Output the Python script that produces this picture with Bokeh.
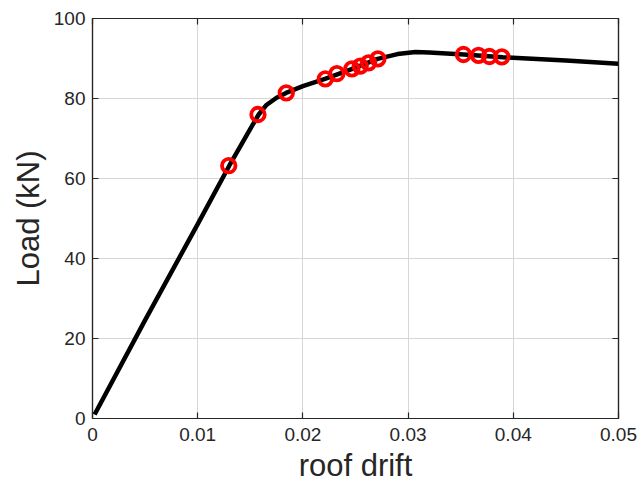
from bokeh.plotting import figure
from bokeh.models import LinearAxis, Range1d, FixedTicker
from bokeh.embed import file_html
from bokeh.resources import INLINE

# Curve (pushover) data
drift_curve = [0.0002, 0.0050, 0.0100, 0.0130, 0.0150, 0.0158, 0.0165, 0.0175, 0.0184,
               0.0200, 0.0221, 0.0247, 0.0271, 0.0290, 0.0307, 0.0320, 0.0353, 0.0390,
               0.0450, 0.0500]
load_curve = [1.0, 24.6, 48.6, 63.2, 72.4, 76.0, 78.3, 80.2, 81.4,
              83.1, 84.9, 87.4, 89.9, 91.1, 91.6, 91.5, 91.0, 90.3,
              89.5, 88.7]

# Marked points
drift_pts = [0.01295, 0.01573, 0.01842, 0.02213, 0.02323, 0.02466, 0.02545, 0.02624,
             0.02713, 0.03526, 0.03669, 0.03773, 0.03891]
load_pts = [63.2, 76.0, 81.4, 84.9, 86.2, 87.4, 88.1, 88.9,
            89.9, 91.0, 90.8, 90.5, 90.4]

x_ticks = [0, 0.01, 0.02, 0.03, 0.04, 0.05]
x_labels = ["0", "0.01", "0.02", "0.03", "0.04", "0.05"]
y_ticks = [0, 20, 40, 60, 80, 100]
y_labels = ["0", "20", "40", "60", "80", "100"]

FONT = "Liberation Sans"
AX = "#262626"

p = figure(width=640, height=485, output_backend="svg", toolbar_location=None,
           x_range=Range1d(0, 0.05), y_range=Range1d(0, 100),
           min_border_left=92, min_border_right=22, min_border_top=18, min_border_bottom=67)
p.outline_line_color = AX
p.outline_line_width = 1.2
p.background_fill_color = "white"

p.line(drift_curve, load_curve, line_color="black", line_width=4.5)
p.scatter(drift_pts, load_pts, marker="circle", size=13.5, fill_color=None,
          line_color="red", line_width=3.8)

def style_axis(ax, labels, ticks, show_labels=True):
    ax.ticker = FixedTicker(ticks=ticks)
    ax.major_label_overrides = {t: l for t, l in zip(ticks, labels)}
    ax.axis_line_color = AX
    ax.axis_line_width = 1.2
    ax.major_tick_line_color = AX
    ax.major_tick_line_width = 1.2
    ax.major_tick_in = 6
    ax.major_tick_out = 0
    ax.minor_tick_line_color = None
    ax.major_label_text_font = FONT
    ax.major_label_text_font_size = "19px"
    ax.major_label_text_color = AX
    if not show_labels:
        ax.major_label_text_alpha = 0
        ax.major_label_text_font_size = "1px"

style_axis(p.xaxis[0], x_labels, x_ticks)
style_axis(p.yaxis[0], y_labels, y_ticks)
p.xaxis[0].major_label_standoff = 9
p.yaxis[0].major_label_standoff = 7

p.xaxis[0].axis_label = "roof drift"
p.yaxis[0].axis_label = "Load (kN)"
for ax in (p.xaxis[0], p.yaxis[0]):
    ax.axis_label_text_font = FONT
    ax.axis_label_text_font_size = "31px"
    ax.axis_label_text_font_style = "normal"
    ax.axis_label_text_color = AX
p.xaxis[0].axis_label_standoff = 4
p.yaxis[0].axis_label_standoff = 5

top = LinearAxis()
style_axis(top, x_labels, x_ticks, show_labels=False)
p.add_layout(top, "above")
right = LinearAxis()
style_axis(right, y_labels, y_ticks, show_labels=False)
p.add_layout(right, "right")

p.xgrid.ticker = FixedTicker(ticks=x_ticks)
p.ygrid.ticker = FixedTicker(ticks=y_ticks)
p.grid.grid_line_color = "#d6d6d6"
p.grid.grid_line_width = 1

open("out.html", "w").write(file_html(p, INLINE))
